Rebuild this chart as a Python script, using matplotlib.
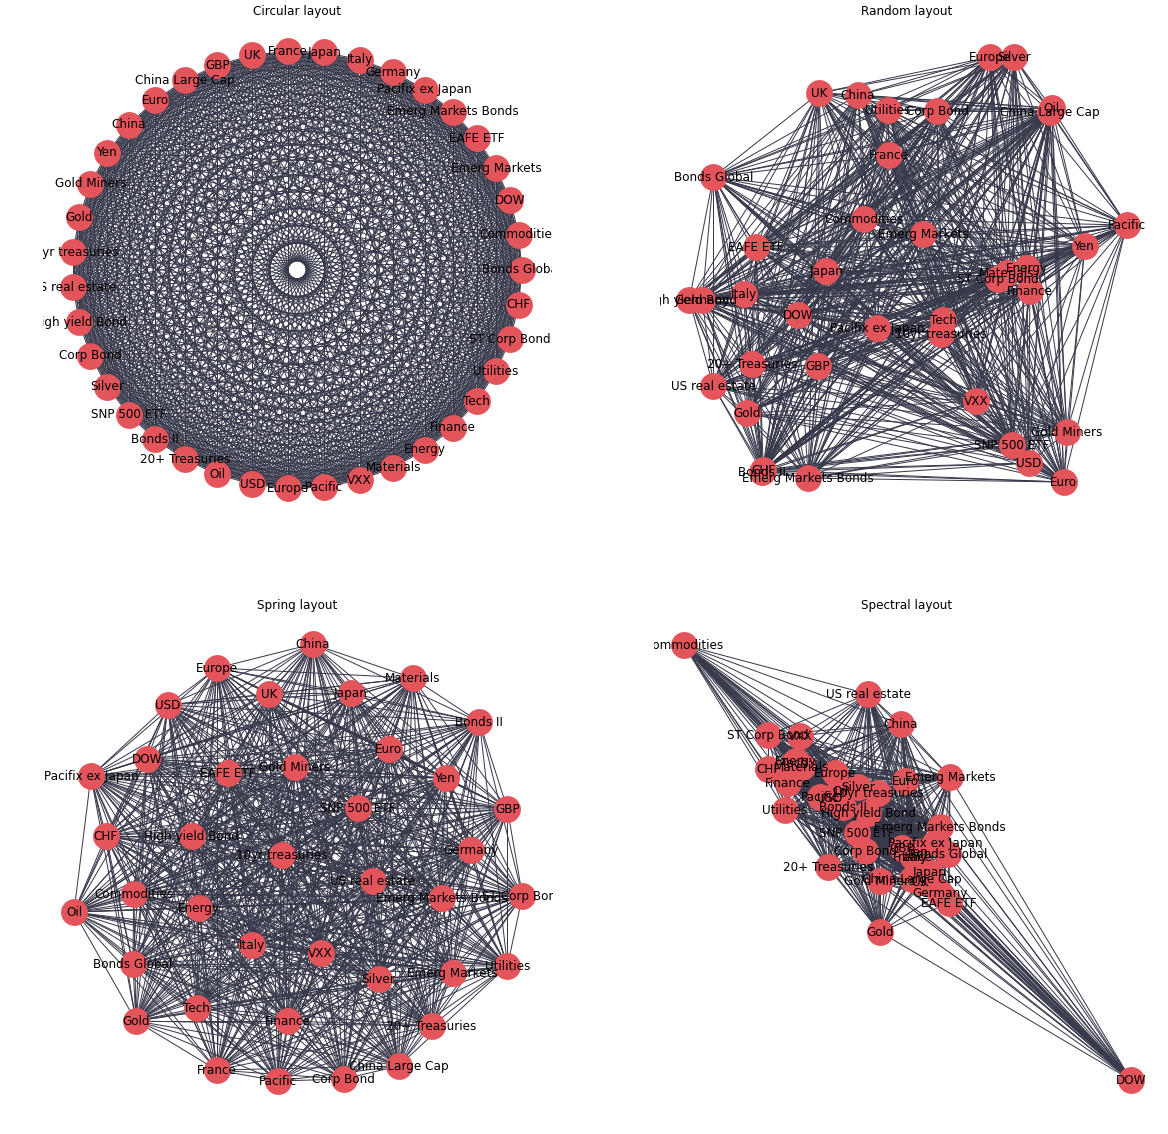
import numpy as np
import matplotlib
matplotlib.use("Agg")
import matplotlib.pyplot as plt
from matplotlib.collections import LineCollection
from itertools import combinations

# ---------------- data ----------------
nodes = ["Bonds Global", "Commodities", "DOW", "Emerg Markets", "EAFE ETF",
         "Emerg Markets Bonds", "Pacifix ex Japan", "Germany", "Italy", "Japan",
         "France", "UK", "GBP", "China Large Cap", "Euro", "China", "Yen",
         "Gold Miners", "Gold", "10yr treasuries", "US real estate",
         "High yield Bond", "Corp Bond", "Silver", "SNP 500 ETF", "Bonds II",
         "20+ Treasuries", "Oil", "USD", "Europe", "Pacific", "VXX", "Materials",
         "Energy", "Finance", "Tech", "Utilities", "ST Corp Bond", "CHF"]

# node positions (arbitrary units, y pointing down)
random_x = [713, 864, 798, 923, 756, 808, 877, 702, 744, 826, 889, 819, 818,
            1050, 1064, 858, 1085, 1067, 747, 941, 713, 689, 937, 1014, 1012,
            762, 752, 1052, 1029, 990, 1127, 976, 1007, 1027, 1030, 943, 888,
            998, 763]
random_y = [177, 219, 315, 234, 247, 478, 328, 300, 294, 271, 155, 93, 366,
            112, 482, 95, 246, 432, 413, 334, 386, 300, 111, 57, 445, 472, 364,
            108, 463, 57, 225, 401, 273, 268, 291, 320, 110, 279, 470]

spring_x = [133, 134, 147, 453, 228, 442, 91, 472, 252, 351, 217, 269, 508,
            399, 389, 313, 446, 295, 136, 282, 373, 192, 344, 379, 358, 480,
            432, 74, 168, 217, 278, 321, 413, 199, 288, 197, 508, 523, 106]
spring_y = [964, 894, 759, 973, 773, 898, 776, 850, 945, 693, 1070, 694, 809,
            1066, 749, 644, 778, 767, 1021, 855, 881, 836, 1079, 979, 808, 722,
            1026, 912, 705, 668, 1081, 953, 678, 908, 1021, 1008, 966, 896, 836]

spectral_x = [948, 684, 1131, 950, 949, 940, 935, 940, 915, 929, 913, 920, 902,
              912, 905, 901, 918, 880, 880, 878, 868, 868, 865, 858, 857, 843,
              828, 840, 830, 835, 820, 800, 802, 796, 788, 794, 785, 768, 768]
spectral_y = [854, 645, 1080, 777, 903, 827, 843, 893, 857, 872, 857, 882, 848,
              879, 781, 724, 852, 881, 932, 793, 694, 813, 851, 787, 833, 807,
              867, 791, 798, 773, 797, 736, 767, 761, 783, 763, 810, 735, 769]

titles = ["Circular layout", "Random layout", "Spring layout", "Spectral layout"]

# complete graph: every pair of assets is linked
edges = list(combinations(range(len(nodes)), 2))

# ---------------- styling ----------------
NODE_COLOR = "#E3545B"
EDGE_COLOR = "#383a4b"
NODE_SIZE = 720
MARGIN = 0.0675

W, H = 1168, 1134
fig = plt.figure(figsize=(W / 72, H / 72), dpi=72)

boxes = [
    [0.0368, 0.5432, 0.4358, 0.4378],
    [0.5649, 0.5496, 0.4250, 0.4254],
    [0.0374, 0.0207, 0.4358, 0.4374],
    [0.5598, 0.0217, 0.4344, 0.4354],
]
title_pos = [(0.2545, 1 - 12 / H), (0.7765, 1 - 12 / H),
             (0.2545, 1 - 606 / H), (0.7765, 1 - 606 / H)]


def circular_layout(n):
    theta = np.linspace(0, 2 * np.pi, n + 1)[:-1]
    return np.column_stack([np.cos(theta), np.sin(theta)])


def rescale(xs, ys):
    p = np.column_stack([np.asarray(xs, float), -np.asarray(ys, float)])
    p -= p.mean(axis=0)
    return p / np.abs(p).max()


layouts = [
    circular_layout(len(nodes)),
    rescale(random_x, random_y),
    rescale(spring_x, spring_y),
    rescale(spectral_x, spectral_y),
]


def draw(ax, pos):
    segs = [(pos[a], pos[b]) for a, b in edges]
    lc = LineCollection(segs, colors=EDGE_COLOR, linewidths=1.0, zorder=1)
    ax.add_collection(lc)
    ax.scatter(pos[:, 0], pos[:, 1], s=NODE_SIZE, c=NODE_COLOR,
               linewidths=0, zorder=2)
    for (x, y), name in zip(pos, nodes):
        ax.text(x, y, name, fontsize=12, ha="center", va="center",
                color="black", family="DejaVu Sans", clip_on=True, zorder=3)
    xmin, ymin = pos.min(axis=0)
    xmax, ymax = pos.max(axis=0)
    dx, dy = xmax - xmin, ymax - ymin
    ax.set_xlim(xmin - MARGIN * dx, xmax + MARGIN * dx)
    ax.set_ylim(ymin - MARGIN * dy, ymax + MARGIN * dy)
    ax.set_axis_off()


for box, pos, title, (tx, ty) in zip(boxes, layouts, titles, title_pos):
    ax = fig.add_axes(box)
    draw(ax, pos)
    fig.text(tx, ty, title, fontsize=12, ha="center", va="center",
             family="DejaVu Sans")

fig.savefig("out.png", dpi=72)
